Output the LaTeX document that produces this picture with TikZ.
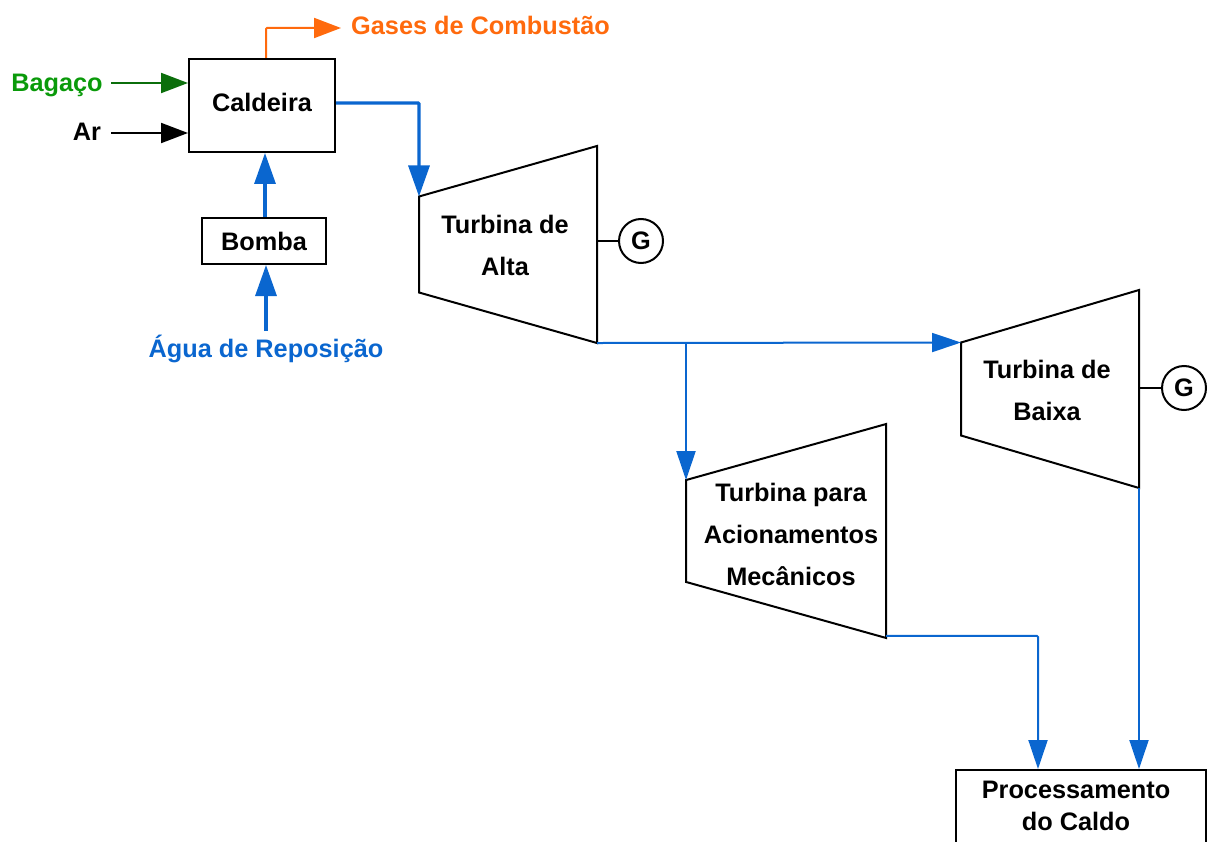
\documentclass[tikz,border=0pt]{standalone}
\usepackage{fontspec}
\setmainfont{Liberation Sans}
\usetikzlibrary{positioning,arrows.meta,shapes.geometric}
\definecolor{flowBlue}{HTML}{0A66CF}
\definecolor{gasOrange}{HTML}{FF6A0D}
\definecolor{fuelGreen}{HTML}{0A9A0A}
\definecolor{fuelDark}{HTML}{0B6E0B}

\begin{document}
\begin{tikzpicture}[
      x=1pt,y=-1pt,
      txt/.style={font=\fontsize{25.3}{42}\selectfont\bfseries,align=center,inner sep=0pt},
      unit/.style={draw,line width=2pt,txt},
      turb/.style={draw,line width=2pt,trapezium,trapezium stretches=true,shape border rotate=90,inner sep=2pt,outer sep=0pt},
      gen/.style={circle,draw,line width=2pt,minimum size=44pt,inner sep=0pt,txt},
      shaft/.style={line width=2pt},
      main/.style={-{Triangle[length=31pt,width=21pt]},line width=3.2pt,draw=flowBlue,rounded corners=1pt},
      branch/.style={-{Triangle[length=29pt,width=19pt]},line width=2pt,draw=flowBlue,rounded corners=1pt},
      feed/.style={-{Triangle[length=27pt,width=20pt]},line width=2pt,rounded corners=1pt}
    ]
    \useasboundingbox (0,0) rectangle (1209,842);
    \node[unit,minimum width=146pt,minimum height=93pt,text depth=7pt] (caldeira) at (262,105.5) {Caldeira};
    \node[unit,minimum width=124pt,minimum height=46pt] (bomba) at (264,241) {Bomba};
    \node[unit,minimum width=250pt,minimum height=76pt] (caldo) at (1081,808) {};
    \node[txt] (caldoTxt) at (1076,806) {Processamento\\[-10pt]do Caldo};
    \node[turb,trapezium left angle=62.25,trapezium right angle=62.25,minimum width=197pt,minimum height=178pt] (alta) at (508,244.5) {};
    \node[turb,trapezium left angle=60.55,trapezium right angle=60.55,minimum width=198pt,minimum height=178pt] (baixa) at (1050,389) {};
    \node[turb,trapezium left angle=61.2,trapezium right angle=61.2,minimum width=214pt,minimum height=200pt] (mec) at (786,531) {};
    \node[txt] (altaTxt) at (505,245) {Turbina de\\Alta};
    \node[txt] (baixaTxt) at (1047,390) {Turbina de\\Baixa};
    \node[txt] (mecTxt) at (791,534) {Turbina para\\Acionamentos\\Mecânicos};
    \node[gen] (g1) at (641,241) {G};
    \node[gen] (g2) at (1184,388) {G};
    \node[txt,text=fuelGreen] (bagaco) at (57,85) {Bagaço};
    \node[txt] (ar) at (87,132) {Ar};
    \node[txt,text=flowBlue] (agua) at (266,349) {Água de Reposição};
    \node[txt,text=gasOrange,anchor=west] (gases) at (351,25) {Gases de Combustão};
    \coordinate (jct) at (mec.top right corner |- alta.bottom left corner);
    \coordinate (gasTip) at (341,28);
    \coordinate (aguaTop) at (266,331);
    \coordinate (bagStart) at (111,83);
    \coordinate (arStart) at (111,133);
    \draw[main] (caldeira.east |- 0,103) -| (alta.top right corner);
    \draw[main] (bomba.north -| 265,0) -- (caldeira.south -| 265,0);
    \draw[main] (aguaTop) -- (bomba.south -| 266,0);
    \draw[feed,draw=gasOrange] (caldeira.north -| 266,0) |- (gasTip);
    \draw[feed,draw=fuelDark] (bagStart) -- (caldeira.west |- bagStart);
    \draw[feed] (arStart) -- (caldeira.west |- arStart);
    \draw[branch] (alta.bottom left corner) -- (baixa.top right corner);
    \draw[branch] (jct) -- (mec.top right corner);
    \draw[branch] (mec.bottom left corner) ++(0,-2) -| (caldo.north -| 1038,0);
    \draw[branch] (baixa.bottom left corner) -- (caldo.north -| baixa.bottom left corner);
    \draw[shaft] (alta.bottom left corner |- g1) -- (g1);
    \draw[shaft] (baixa.bottom left corner |- g2) -- (g2);
  \end{tikzpicture}
\end{document}
